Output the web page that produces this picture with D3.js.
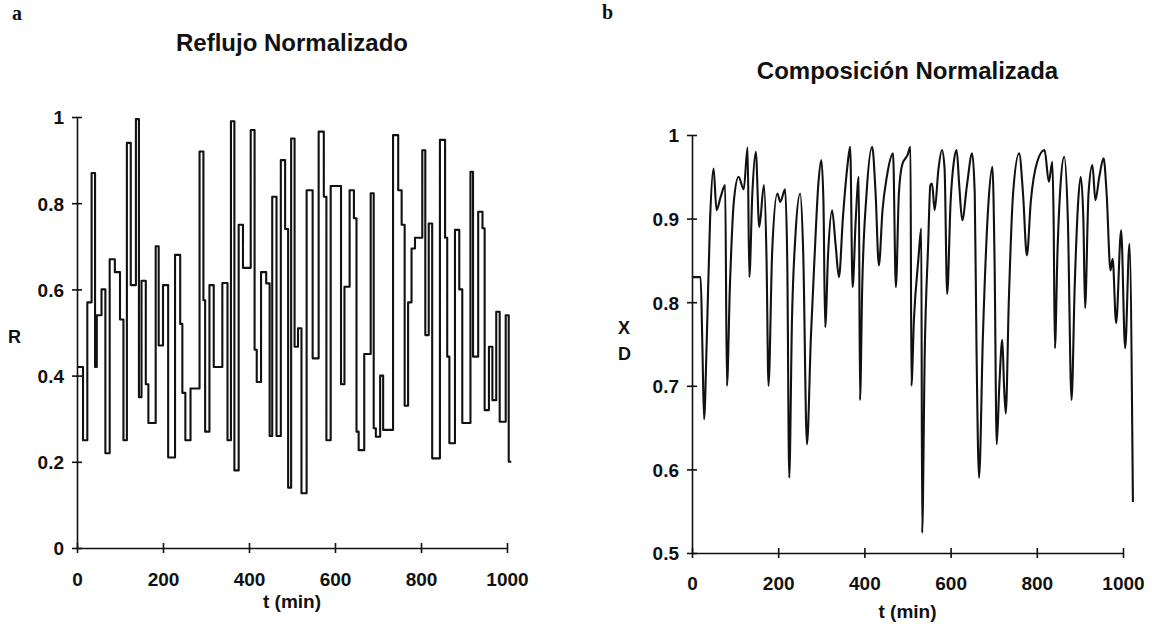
<!DOCTYPE html>
<html>
<head>
<meta charset="utf-8">
<script src="https://cdn.jsdelivr.net/npm/d3@7"></script>
<style>
  body { margin: 0; background: #fff; }
  text { font-family: "Liberation Sans", Arial, sans-serif; font-weight: bold; fill: #111; }
</style>
</head>
<body>
<svg id="chart" width="1152" height="632"></svg>
<script>
// Panel a: reflux, step changes (start time in min, normalized value)
const refluxTime = [0, 14, 24, 34, 42, 46, 57, 66, 76, 88, 100, 108, 116, 125, 137, 144, 150, 160, 166, 183,
  190, 200, 212, 228, 240, 245, 252, 264, 285, 294, 298, 308, 318, 338, 350, 358, 366, 376, 386, 404,
  413, 418, 428, 440, 448, 454, 464, 474, 484, 491, 498, 506, 514, 522, 534, 548, 562, 574, 580, 590,
  614, 622, 634, 644, 650, 655, 668, 683, 690, 695, 705, 712, 735, 747, 755, 762, 770, 778, 786, 803,
  810, 818, 826, 844, 856, 861, 866, 879, 889, 896, 915, 921, 933, 943, 948, 958, 966, 975, 983, 997,
  1004, 1010];
const refluxValue = [0.42, 0.25, 0.57, 0.87, 0.42, 0.54, 0.60, 0.22, 0.67, 0.64, 0.53, 0.25, 0.94, 0.61, 0.995, 0.35, 0.62, 0.38, 0.29, 0.70,
  0.47, 0.61, 0.21, 0.68, 0.52, 0.36, 0.25, 0.37, 0.92, 0.575, 0.27, 0.61, 0.42, 0.615, 0.25, 0.99, 0.18, 0.75, 0.65, 0.97,
  0.46, 0.385, 0.64, 0.614, 0.26, 0.815, 0.26, 0.90, 0.74, 0.14, 0.95, 0.467, 0.51, 0.127, 0.83, 0.44, 0.966, 0.815, 0.25, 0.84,
  0.38, 0.606, 0.83, 0.765, 0.27, 0.227, 0.45, 0.823, 0.278, 0.258, 0.40, 0.274, 0.958, 0.83, 0.75, 0.33, 0.57, 0.695, 0.72, 0.923,
  0.494, 0.753, 0.208, 0.947, 0.72, 0.444, 0.243, 0.738, 0.60, 0.29, 0.873, 0.444, 0.78, 0.742, 0.32, 0.467, 0.343, 0.548, 0.293, 0.54,
  0.20, 0.20];

// Panel b: distillate composition
const compTime = [0, 20, 24, 28, 34, 42, 50, 57, 66, 77, 81, 88, 97, 108, 120, 129, 133, 140, 148, 156,
  167, 173, 177.5, 186, 198, 205, 216, 221, 225.6, 232, 240, 251, 258, 266.7, 276, 284, 293, 300, 305, 309,
  316, 325, 333, 341, 350, 360, 367, 372.6, 380, 387, 389.8, 395, 405, 418, 426, 433.6, 442, 452, 466.5, 473,
  480, 488, 500, 507, 509, 515, 525, 532, 534, 540, 548, 553, 557, 563, 572, 580, 586, 592, 600, 608,
  614, 620, 627, 638, 650, 656, 660, 666, 675, 688, 697, 702, 707, 713, 720, 724, 728, 735, 745, 759,
  768, 777, 786, 801, 818, 828, 836, 839, 842, 848, 855, 863.6, 872, 880.6, 888, 896, 902, 908, 912, 920,
  929, 936, 945, 955, 962, 971, 976, 984, 995.7, 1005, 1015, 1023];
const compValue = [0.83, 0.83, 0.75, 0.66, 0.75, 0.90, 0.96, 0.91, 0.925, 0.94, 0.70, 0.82, 0.92, 0.95, 0.935, 0.985, 0.83, 0.93, 0.98, 0.89,
  0.94, 0.85, 0.70, 0.86, 0.93, 0.92, 0.935, 0.85, 0.59, 0.78, 0.88, 0.93, 0.86, 0.63, 0.76, 0.85, 0.94, 0.97, 0.92, 0.77,
  0.86, 0.91, 0.87, 0.83, 0.90, 0.96, 0.986, 0.818, 0.90, 0.95, 0.683, 0.82, 0.93, 0.986, 0.93, 0.844, 0.91, 0.95, 0.978, 0.818,
  0.93, 0.965, 0.976, 0.986, 0.70, 0.78, 0.85, 0.888, 0.524, 0.74, 0.87, 0.94, 0.942, 0.91, 0.96, 0.982, 0.96, 0.81, 0.92, 0.97,
  0.982, 0.94, 0.898, 0.94, 0.978, 0.93, 0.75, 0.59, 0.76, 0.92, 0.962, 0.85, 0.63, 0.70, 0.755, 0.70, 0.667, 0.80, 0.93, 0.978,
  0.93, 0.856, 0.92, 0.968, 0.982, 0.944, 0.968, 0.90, 0.745, 0.86, 0.94, 0.974, 0.90, 0.683, 0.82, 0.92, 0.95, 0.90, 0.793, 0.93,
  0.964, 0.922, 0.95, 0.972, 0.93, 0.838, 0.852, 0.775, 0.886, 0.745, 0.87, 0.561];

const timeTicks = [0, 200, 400, 600, 800, 1000];
const refluxTicks = [0, 0.2, 0.4, 0.6, 0.8, 1];
const compTicks = [0.5, 0.6, 0.7, 0.8, 0.9, 1];

const svg = d3.select("#chart");
svg.append("rect").attr("width", 1152).attr("height", 632).attr("fill", "#fff");

function fmtY(d) {
  return (d === 0 || d === 1) ? String(d) : d3.format(".1f")(d);
}

function drawPanel(p) {
  const x = d3.scaleLinear().domain([0, 1000]).range([p.left, p.right]);
  const y = d3.scaleLinear().domain(p.yDomain).range([p.bottom, p.top]);
  const g = svg.append("g");

  // x axis, ticks crossing the line
  const xa = g.append("g")
      .attr("transform", `translate(0,${p.bottom})`)
      .call(d3.axisBottom(x).tickValues(timeTicks).tickSize(5).tickSizeOuter(0).tickFormat(d3.format("d")));
  xa.selectAll(".tick line").attr("y1", -5).attr("y2", 5);
  xa.selectAll("text").attr("y", p.xLabelOffset).attr("dy", null).style("font-size", "19px");

  // y axis
  const ya = g.append("g")
      .attr("transform", `translate(${p.left},0)`)
      .call(d3.axisLeft(y).tickValues(p.yTicks).tickSize(5).tickSizeOuter(0).tickFormat(fmtY));
  ya.selectAll(".tick line").attr("x1", -5).attr("x2", 5);
  ya.selectAll("text").attr("x", -13).attr("dy", "0.36em").style("font-size", "19px");

  g.selectAll(".domain, .tick line").attr("stroke", "#111").attr("stroke-width", 1.6);

  // series
  const pts = p.time.map((t, i) => [t, p.values[i]]);
  g.append("path")
      .datum(pts)
      .attr("fill", "none")
      .attr("stroke", "#111")
      .attr("stroke-width", 2.1)
      .attr("stroke-linejoin", "round")
      .attr("d", d3.line().x(d => x(d[0])).y(d => y(d[1])).curve(p.curve));

  // titles and labels
  g.append("text")
      .attr("x", (p.left + p.right) / 2).attr("y", p.titleY)
      .attr("text-anchor", "middle")
      .style("font-size", "24px")
      .text(p.title);

  g.append("text")
      .attr("x", (p.left + p.right) / 2).attr("y", p.xTitleY)
      .attr("text-anchor", "middle")
      .style("font-size", "19px")
      .text("t (min)");

  g.append("text")
      .attr("x", p.panelX).attr("y", p.panelY)
      .style("font-family", "'Liberation Serif', 'Times New Roman', serif")
      .style("font-size", "20px")
      .text(p.panel);
}

drawPanel({
  left: 77, right: 507, top: 117, bottom: 548,
  yDomain: [0, 1], yTicks: refluxTicks,
  time: refluxTime, values: refluxValue, curve: d3.curveStepAfter,
  xLabelOffset: 38, xTitleY: 608,
  title: "Reflujo Normalizado", titleY: 51,
  panel: "a", panelX: 12, panelY: 20
});

drawPanel({
  left: 692, right: 1123, top: 135, bottom: 553,
  yDomain: [0.5, 1], yTicks: compTicks,
  time: compTime, values: compValue, curve: d3.curveMonotoneX,
  xLabelOffset: 37, xTitleY: 618,
  title: "Composición Normalizada", titleY: 79,
  panel: "b", panelX: 602, panelY: 19
});

// y-axis names
svg.append("text").attr("x", 8).attr("y", 343).style("font-size", "18px").text("R");
svg.append("text").attr("x", 618).attr("y", 334).style("font-size", "18px").text("X");
svg.append("text").attr("x", 618).attr("y", 360).style("font-size", "18px").text("D");
</script>
</body>
</html>
